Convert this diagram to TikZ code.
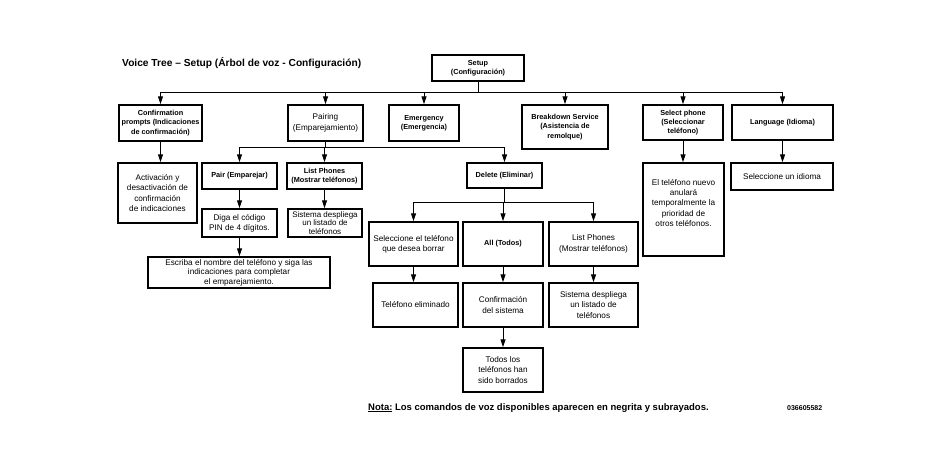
\documentclass[tikz,border=0pt]{standalone}
\usepackage{fontspec}
\setmainfont{Liberation Sans}
\usetikzlibrary{arrows.meta}

\tikzset{
    box/.style={draw, line width=1.4pt, inner sep=1pt, align=center,
        font=\fontsize{8.2}{10.3}\selectfont},
    headbox/.style={box, font=\bfseries\fontsize{7.3}{9.2}\selectfont},
    wh/.style 2 args={minimum width=#1pt, minimum height=#2pt},
    wire/.style={line width=1pt},
    arr/.style={wire, -{Triangle[length=8pt, width=5pt]}},
    note/.style={anchor=base west, inner sep=0pt},
}

\begin{document}
\begin{tikzpicture}[x=1pt, y=-1pt]
    \fill[white] (0,0) rectangle (950,469);
    \useasboundingbox (0,0) rectangle (950,469);

    \node[note, font=\bfseries\fontsize{10.2}{12}\selectfont] (title) at (122,66)
        {Voice Tree – Setup (Árbol de voz - Configuración)};

    % top level
    \node[headbox, wh={92}{26}] (setup) at (478,68) {Setup\\(Configuración)};
    \node[headbox, wh={83}{36}] (conf) at (160.5,123)
        {Confirmation\\prompts (Indicaciones\\de confirmación)};
    \node[box, wh={75}{36}] (pairing) at (325.5,123) {Pairing\\(Emparejamiento)};
    \node[headbox, wh={70}{36}] (emerg) at (424,123) {Emergency\\(Emergencia)};
    \node[headbox, wh={86}{44}] (brk) at (565,127)
        {Breakdown Service\\(Asistencia de\\remolque)};
    \node[headbox, wh={80}{35}] (select) at (683,122.5)
        {Select phone\\(Seleccionar\\teléfono)};
    \node[headbox, wh={101}{35}] (lang) at (782.5,122.5) {Language (Idioma)};

    \coordinate (bus) at (478,92);
    \draw[wire] (setup.south) -- (bus);
    \foreach \n in {conf,pairing,emerg,brk,select,lang}
        \draw[arr] (bus) -| (\n.north);

    % confirmation prompts
    \node[box, wh={79}{60}] (activ) at (157.5,193)
        {Activación y\\desactivación de\\confirmación\\de indicaciones};
    \draw[arr] (conf.south) -- (conf.south |- activ.north);

    % pairing
    \node[headbox, wh={75}{26}] (pair) at (239.5,176) {Pair (Emparejar)};
    \node[headbox, wh={75}{26}] (list) at (324.5,176)
        {List Phones\\(Mostrar teléfonos)};
    \node[headbox, wh={75}{25}] (delete) at (504.5,175.5) {Delete (Eliminar)};
    \path (pairing.south) ++(0,6) coordinate (pbus);
    \draw[wire] (pairing.south) -- (pbus);
    \foreach \n in {pair,list,delete}
        \draw[arr] (pbus) -| (\n.north);

    \node[box, wh={75}{28}] (diga) at (239.5,223) {Diga el código\\PIN de 4 dígitos.};
    \node[box, wh={74}{28}, font=\fontsize{8}{8.2}\selectfont] (sist1) at (325,223)
        {Sistema despliega\\un listado de\\teléfonos};
    \node[box, wh={182}{31}, font=\fontsize{8.2}{9.6}\selectfont] (escriba) at (239,272.5)
        {Escriba el nombre del teléfono y siga las\\indicaciones para completar\\el emparejamiento.};
    \draw[arr] (pair.south) -- (pair.south |- diga.north);
    \draw[arr] (list.south) -- (list.south |- sist1.north);
    \draw[arr] (diga.south) -- (diga.south |- escriba.north);

    % delete
    \node[box, wh={89}{44}] (sel) at (413.5,244) {Seleccione el teléfono\\que desea borrar};
    \node[headbox, wh={80}{44}] (all) at (503,244) {All (Todos)};
    \node[box, wh={89}{44}] (list2) at (593.5,244) {List Phones\\(Mostrar teléfonos)};
    \path (delete.south) ++(0,14) coordinate (dbus);
    \draw[wire] (delete.south) -- (dbus);
    \foreach \n in {sel,all,list2}
        \draw[arr] (dbus) -| (\n.north);

    \node[box, wh={85}{44}] (elim) at (415.5,305) {Teléfono eliminado};
    \node[box, wh={80}{44}] (conf2) at (503,305) {Confirmación\\del sistema};
    \node[box, wh={89}{44}] (sist2) at (593.5,305) {Sistema despliega\\un listado de\\teléfonos};
    \node[box, wh={80}{44}] (todos) at (503,370) {Todos los\\teléfonos han\\sido borrados};
    \draw[arr] (sel.south) -- (sel.south |- elim.north);
    \draw[arr] (all.south) -- (all.south |- conf2.north);
    \draw[arr] (list2.south) -- (list2.south |- sist2.north);
    \draw[arr] (conf2.south) -- (conf2.south |- todos.north);

    % select phone, language
    \node[box, wh={81}{93}] (nuevo) at (683.5,209.5)
        {El teléfono nuevo\\anulará\\temporalmente la\\prioridad de\\otros teléfonos.\\[3pt]};
    \node[box, wh={102}{27}] (idioma) at (782,176.5) {Seleccione un idioma};
    \draw[arr] (select.south) -- (select.south |- nuevo.north);
    \draw[arr] (lang.south) -- (lang.south |- idioma.north);

    \node[note, font=\bfseries\fontsize{9.5}{11}\selectfont] (nota) at (368,410)
        {\underline{Nota:} Los comandos de voz disponibles aparecen en negrita y subrayados.};
    \node[note, font=\bfseries\fontsize{7}{8}\selectfont] (code) at (787,410) {036605582};
\end{tikzpicture}
\end{document}
